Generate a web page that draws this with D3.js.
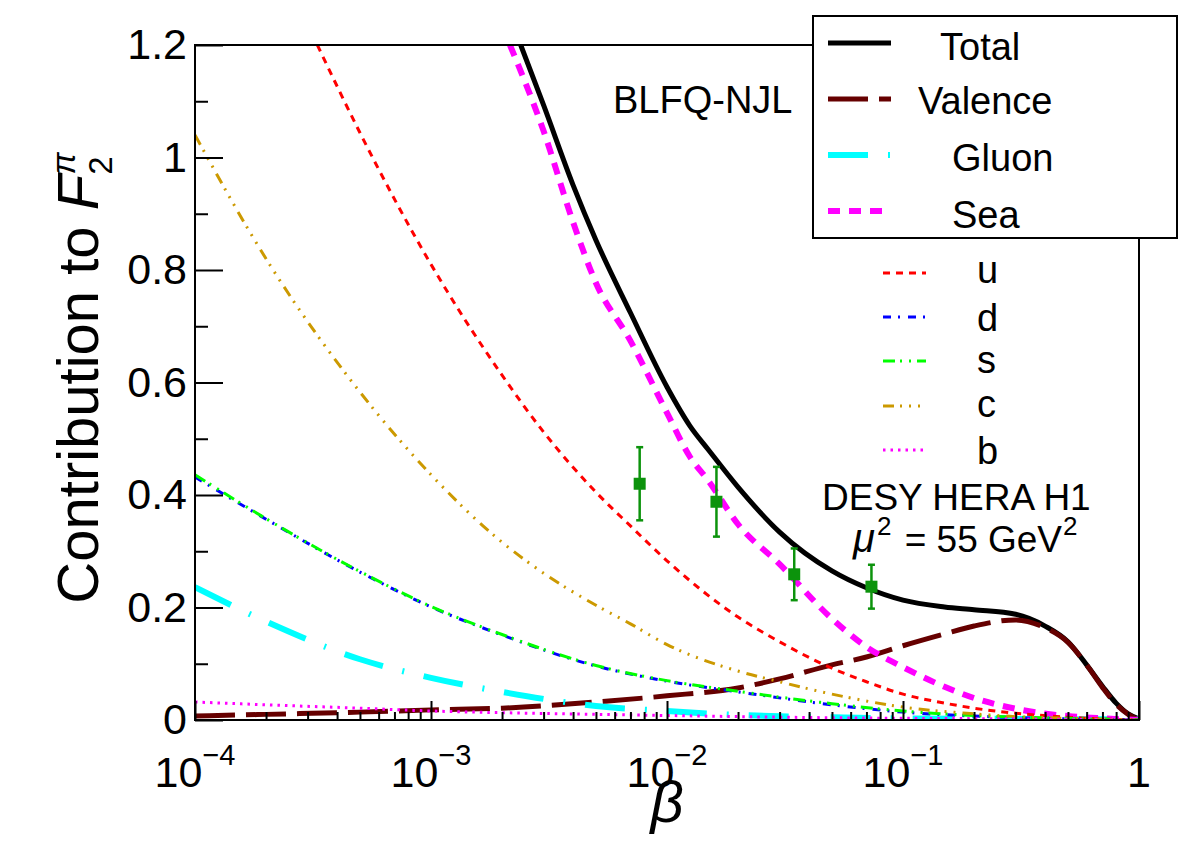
<!DOCTYPE html>
<html>
<head>
<meta charset="utf-8">
<script src="https://cdn.jsdelivr.net/npm/d3@7"></script>
<style>
  body { margin: 0; background: #fff; }
  svg { font-family: "Liberation Sans", Arial, Helvetica, sans-serif; }
</style>
</head>
<body>
<svg id="chart" width="1182" height="850"></svg>
<script>
// values (beta, contribution to F2 pion)
var betaTotal = [0.0024, 0.003, 0.004, 0.005, 0.007, 0.01, 0.0125, 0.015, 0.02, 0.03, 0.05, 0.07, 0.1, 0.15, 0.2, 0.3, 0.4, 0.5, 0.6, 0.7, 0.8, 0.9, 1.0];
var total     = [1.2, 1.093, 0.951, 0.853, 0.724, 0.592, 0.523, 0.480, 0.414, 0.334, 0.265, 0.235, 0.213, 0.201, 0.196, 0.188, 0.167, 0.139, 0.098, 0.060, 0.030, 0.011, 0.002];

var betaValence = [1e-4, 2e-4, 5e-4, 1e-3, 2e-3, 5e-3, 1e-2, 2e-2, 3e-2, 5e-2, 7e-2, 0.1, 0.15, 0.2, 0.3, 0.4, 0.5, 0.6, 0.7, 0.8, 0.9, 1.0];
var valence     = [0.007, 0.010, 0.014, 0.018, 0.021, 0.032, 0.043, 0.057, 0.073, 0.098, 0.112, 0.132, 0.153, 0.167, 0.178, 0.164, 0.138, 0.098, 0.058, 0.028, 0.010, 0.0];

var betaGluon = [1e-4, 2e-4, 5e-4, 1e-3, 2e-3, 5e-3, 1e-2, 2e-2, 5e-2, 0.1, 0.3, 1.0];
var gluon     = [0.236, 0.175, 0.108, 0.075, 0.050, 0.025, 0.016, 0.009, 0.005, 0.003, 0.002, 0.001];

var betaSea = [0.00216, 0.003, 0.004, 0.005, 0.007, 0.01, 0.0125, 0.015, 0.02, 0.03, 0.05, 0.07, 0.1, 0.15, 0.2, 0.3, 0.5, 0.7, 1.0];
var sea     = [1.2, 1.047, 0.885, 0.777, 0.674, 0.546, 0.468, 0.425, 0.348, 0.277, 0.180, 0.130, 0.094, 0.059, 0.039, 0.020, 0.007, 0.003, 0.0];

var betaU = [0.00033, 0.0005, 0.001, 0.002, 0.003, 0.005, 0.007, 0.01, 0.02, 0.03, 0.05, 0.07, 0.1, 0.15, 0.2, 0.3, 0.5, 0.7, 1.0];
var uQuark = [1.2, 1.044, 0.81, 0.613, 0.512, 0.405, 0.345, 0.283, 0.183, 0.139, 0.092, 0.068, 0.046, 0.030, 0.021, 0.012, 0.005, 0.002, 0.0];

var betaDS = [1e-4, 2e-4, 5e-4, 1e-3, 2e-3, 5e-3, 1e-2, 2e-2, 5e-2, 0.1, 0.2, 0.5, 1.0];
var dQuark = [0.432, 0.357, 0.263, 0.201, 0.151, 0.096, 0.069, 0.050, 0.027, 0.014, 0.007, 0.002, 0.0];
var sQuark = [0.436, 0.358, 0.264, 0.202, 0.152, 0.097, 0.070, 0.051, 0.029, 0.016, 0.008, 0.003, 0.0];

var betaC = [1e-4, 2e-4, 5e-4, 1e-3, 2e-3, 3e-3, 5e-3, 7e-3, 1e-2, 2e-2, 3e-2, 5e-2, 0.1, 0.2, 0.3, 0.5, 1.0];
var cQuark = [1.04, 0.82, 0.583, 0.436, 0.316, 0.261, 0.204, 0.171, 0.134, 0.087, 0.068, 0.046, 0.023, 0.011, 0.006, 0.003, 0.0];

var betaB = [1e-4, 2e-4, 5e-4, 1e-3, 2e-3, 5e-3, 1e-2, 2e-2, 5e-2, 0.1, 0.3, 1.0];
var bQuark = [0.032, 0.027, 0.021, 0.016, 0.013, 0.010, 0.008, 0.006, 0.004, 0.003, 0.002, 0.0];

// DESY HERA H1 points
var h1Beta  = [0.00766, 0.0162, 0.0346, 0.0735];
var h1Value = [0.420, 0.388, 0.259, 0.237];
var h1Err   = [0.065, 0.062, 0.046, 0.039];

// axis ticks
var xMajor = [1e-4, 1e-3, 1e-2, 1e-1, 1];
var xTickBase = ["10", "10", "10", "10", "1"];
var xTickExp  = ["\u22124", "\u22123", "\u22122", "\u22121", ""];
var yMajor = [0, 0.2, 0.4, 0.6, 0.8, 1.0, 1.2];
var yTickLabels = ["0", "0.2", "0.4", "0.6", "0.8", "1", "1.2"];
var yMinor = [0.1, 0.3, 0.5, 0.7, 0.9, 1.1];

var svg = d3.select('#chart');
var padL = 195, padR = 1139, padT = 45, padB = 720;

var x = d3.scaleLog().domain([1e-4, 1]).range([padL, padR]);
var y = d3.scaleLinear().domain([0, 1.2]).range([padB, padT]);

var xMinor = [];
[1e-4, 1e-3, 1e-2, 1e-1].forEach(function(d) {
    for (var k = 2; k <= 9; k++) xMinor.push(d * k);
});

svg.append('defs').append('clipPath').attr('id', 'plotclip')
    .append('rect')
    .attr('x', padL).attr('y', padT)
    .attr('width', padR - padL).attr('height', padB - padT);

// curves
var series = [
    {name: 'Total',   beta: betaTotal,   val: total,   color: '#000000', width: 5, dash: null},
    {name: 'Valence', beta: betaValence, val: valence, color: '#660000', width: 5, dash: '40 11'},
    {name: 'Gluon',   beta: betaGluon,   val: gluon,   color: '#00ffff', width: 6, dash: '40 20 2 20'},
    {name: 'Sea',     beta: betaSea,     val: sea,     color: '#ff00ff', width: 6, dash: '12 9'},
    {name: 'u',       beta: betaU,       val: uQuark,  color: '#ff0000', width: 3, dash: '7 6'},
    {name: 'd',       beta: betaDS,      val: dQuark,  color: '#0000ff', width: 3, dash: '8 7 2 8'},
    {name: 's',       beta: betaDS,      val: sQuark,  color: '#00ff00', width: 3, dash: '12 5 2 7 2 6'},
    {name: 'c',       beta: betaC,       val: cQuark,  color: '#cc9900', width: 3, dash: '11 6 2 7 2 7 2 7'},
    {name: 'b',       beta: betaB,       val: bQuark,  color: '#ff00ff', width: 3, dash: '2.5 5'}
];

var line = d3.line()
    .x(function(d) { return x(d[0]); })
    .y(function(d) { return y(d[1]); })
    .curve(d3.curveMonotoneX);

var curves = svg.append('g').attr('clip-path', 'url(#plotclip)');
series.forEach(function(s) {
    curves.append('path')
        .datum(d3.zip(s.beta, s.val))
        .attr('d', line)
        .attr('fill', 'none')
        .attr('stroke', s.color)
        .attr('stroke-width', s.width)
        .attr('stroke-dasharray', s.dash)
        .attr('stroke-linejoin', 'round');
});

// H1 data with error bars
var green = '#0c930c';
var pts = svg.append('g');
h1Beta.forEach(function(b, i) {
    var px = x(b);
    pts.append('line')
        .attr('x1', px).attr('x2', px)
        .attr('y1', y(h1Value[i] + h1Err[i])).attr('y2', y(h1Value[i] - h1Err[i]))
        .attr('stroke', green).attr('stroke-width', 2.5);
    [h1Value[i] + h1Err[i], h1Value[i] - h1Err[i]].forEach(function(v) {
        pts.append('line')
            .attr('x1', px - 3.5).attr('x2', px + 3.5)
            .attr('y1', y(v)).attr('y2', y(v))
            .attr('stroke', green).attr('stroke-width', 2.5);
    });
    pts.append('rect')
        .attr('x', px - 6).attr('y', y(h1Value[i]) - 6)
        .attr('width', 12).attr('height', 12)
        .attr('fill', green);
});

// frame
svg.append('rect')
    .attr('x', padL).attr('y', padT)
    .attr('width', padR - padL).attr('height', padB - padT)
    .attr('fill', 'none').attr('stroke', '#000').attr('stroke-width', 2);

// axes, ticks pointing into the frame
var yAxis = svg.append('g').attr('transform', 'translate(' + padL + ',0)')
    .call(d3.axisLeft(y).tickValues(yMajor).tickSize(-28).tickPadding(8)
        .tickFormat(function(d, i) { return yTickLabels[i]; }));
svg.append('g').attr('transform', 'translate(' + padL + ',0)')
    .call(d3.axisLeft(y).tickValues(yMinor).tickSize(-13).tickFormat(''));

svg.append('g').attr('transform', 'translate(0,' + padB + ')')
    .call(d3.axisBottom(x).tickValues(xMajor).tickSize(-19).tickFormat(''));
svg.append('g').attr('transform', 'translate(0,' + padB + ')')
    .call(d3.axisBottom(x).tickValues(xMinor).tickSize(-8).tickFormat(''));

svg.selectAll('.domain').remove();
svg.selectAll('.tick line').attr('stroke', '#000').attr('stroke-width', 2);
yAxis.selectAll('text').attr('font-size', 43)
    .attr('font-family', '"Liberation Sans", Arial, sans-serif').attr('fill', '#000');

var xLabels = svg.append('g').attr('font-size', 43).attr('text-anchor', 'middle');
xMajor.forEach(function(v, i) {
    var t = xLabels.append('text').attr('x', x(v)).attr('y', 787);
    t.append('tspan').text(xTickBase[i]);
    if (xTickExp[i]) {
        t.append('tspan').attr('font-size', 29).attr('dy', -22).text(xTickExp[i]);
    }
});

// axis titles
var yt = svg.append('text')
    .attr('transform', 'translate(98,378) rotate(-90)')
    .attr('text-anchor', 'middle')
    .attr('font-size', 58);
yt.append('tspan').text('Contribution to ');
yt.append('tspan').attr('font-style', 'italic').text('F');
yt.append('tspan').attr('font-size', 33).attr('dy', 14).text('2');
yt.append('tspan').attr('font-size', 33).attr('font-style', 'italic').attr('dx', -18).attr('dy', -37).text('\u03c0');

svg.append('text')
    .attr('x', 667).attr('y', 822)
    .attr('text-anchor', 'middle')
    .attr('font-size', 58).attr('font-style', 'italic')
    .text('\u03b2');

// annotations
svg.append('text').attr('x', 613).attr('y', 113).attr('font-size', 38).text('BLFQ-NJL');
svg.append('text').attr('x', 822).attr('y', 510).attr('font-size', 37).text('DESY HERA H1');
var mu = svg.append('text').attr('x', 853).attr('y', 552).attr('font-size', 37);
mu.append('tspan').attr('font-style', 'italic').attr('font-size', 40).text('\u03bc');
mu.append('tspan').attr('font-size', 26).attr('dy', -17).attr('dx', 2).text('2');
mu.append('tspan').attr('dy', 17).attr('dx', 3).text(' = 55 GeV');
mu.append('tspan').attr('font-size', 26).attr('dy', -17).attr('dx', 1).text('2');

// legend with box
var legendBox = [
    {i: 0, ly: 43,  tx: 940, ty: 60},
    {i: 1, ly: 99,  tx: 918, ty: 114},
    {i: 2, ly: 155, tx: 952, ty: 171},
    {i: 3, ly: 211, tx: 952, ty: 228}
];
svg.append('rect')
    .attr('x', 813).attr('y', 16).attr('width', 364).attr('height', 222)
    .attr('fill', '#fff').attr('stroke', '#000').attr('stroke-width', 2);
legendBox.forEach(function(e) {
    var s = series[e.i];
    svg.append('line')
        .attr('x1', 828).attr('x2', 891).attr('y1', e.ly).attr('y2', e.ly)
        .attr('stroke', s.color).attr('stroke-width', s.width)
        .attr('stroke-dasharray', s.dash);
    svg.append('text').attr('x', e.tx).attr('y', e.ty).attr('font-size', 38).text(s.name);
});

// quark legend, no box
var quarkRows = [
    {i: 4, ly: 273, ty: 283},
    {i: 5, ly: 317, ty: 331},
    {i: 6, ly: 361, ty: 373},
    {i: 7, ly: 406, ty: 417},
    {i: 8, ly: 450, ty: 464}
];
quarkRows.forEach(function(e) {
    var s = series[e.i];
    svg.append('line')
        .attr('x1', 883).attr('x2', 926).attr('y1', e.ly).attr('y2', e.ly)
        .attr('stroke', s.color).attr('stroke-width', s.width)
        .attr('stroke-dasharray', s.dash);
    svg.append('text').attr('x', 977).attr('y', e.ty).attr('font-size', 38).text(s.name);
});
</script>
</body>
</html>
